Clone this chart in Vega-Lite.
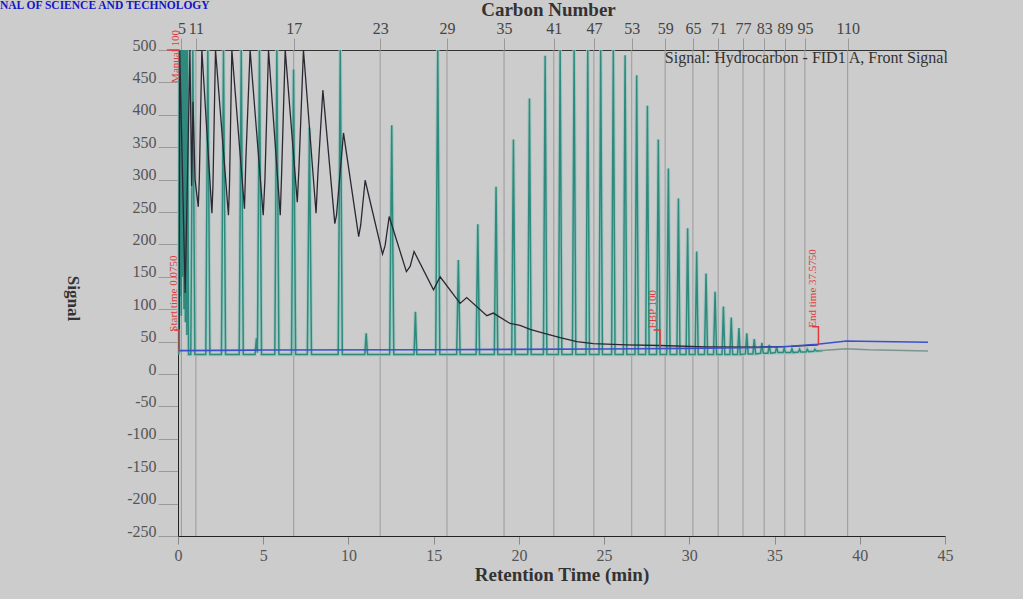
{
  "$schema": "https://vega.github.io/schema/vega-lite/v6.json",
  "width": 767,
  "height": 486,
  "autosize": {"type": "none"},
  "padding": {"left": 178, "top": 50, "right": 78, "bottom": 63},
  "background": "#cccccc",
  "config": {"view": {"stroke": null}, "font": "Liberation Serif", "axis": {"labelOverlap": false}},
  "title": {
    "text": "NAL OF SCIENCE AND TECHNOLOGY",
    "anchor": "start",
    "frame": "group",
    "orient": "top",
    "font": "Liberation Serif",
    "fontSize": 11.5,
    "fontWeight": "bold",
    "color": "#1414c8",
    "dx": -178,
    "offset": -11
  },
  "datasets": {
    "carbon": [
      {"cn": "5", "t": 0.2}, {"cn": "11", "t": 1.05}, {"cn": "17", "t": 6.79}, {"cn": "23", "t": 11.86},
      {"cn": "29", "t": 15.78}, {"cn": "35", "t": 19.13}, {"cn": "41", "t": 22.05}, {"cn": "47", "t": 24.4},
      {"cn": "53", "t": 26.62}, {"cn": "59", "t": 28.58}, {"cn": "65", "t": 30.21}, {"cn": "71", "t": 31.69},
      {"cn": "77", "t": 33.15}, {"cn": "83", "t": 34.39}, {"cn": "89", "t": 35.6}, {"cn": "95", "t": 36.78},
      {"cn": "110", "t": 39.29}
    ],
    "teal": [
      {"t": 0.05, "v": 30}, {"t": 0.08, "v": 500}, {"t": 0.11, "v": 120}, {"t": 0.15, "v": 500}, {"t": 0.19, "v": 90},
      {"t": 0.23, "v": 500}, {"t": 0.27, "v": 150}, {"t": 0.31, "v": 500}, {"t": 0.35, "v": 100}, {"t": 0.39, "v": 500},
      {"t": 0.43, "v": 80}, {"t": 0.47, "v": 500}, {"t": 0.52, "v": 60}, {"t": 0.56, "v": 500}, {"t": 0.62, "v": 30},
      {"t": 0.75, "v": 30}, {"t": 0.87, "v": 500}, {"t": 0.99, "v": 30},
      {"t": 1.63, "v": 30}, {"t": 1.75, "v": 500}, {"t": 1.87, "v": 30},
      {"t": 2.55, "v": 30}, {"t": 2.67, "v": 500}, {"t": 2.79, "v": 30},
      {"t": 3.59, "v": 30}, {"t": 3.71, "v": 500}, {"t": 3.83, "v": 30},
      {"t": 4.52, "v": 30}, {"t": 4.6, "v": 55}, {"t": 4.66, "v": 33}, {"t": 4.78, "v": 500}, {"t": 4.9, "v": 30},
      {"t": 5.68, "v": 30}, {"t": 5.8, "v": 500}, {"t": 5.92, "v": 30},
      {"t": 6.66, "v": 30}, {"t": 6.78, "v": 470}, {"t": 6.9, "v": 30},
      {"t": 7.59, "v": 30}, {"t": 7.71, "v": 380}, {"t": 7.83, "v": 30},
      {"t": 9.4, "v": 30}, {"t": 9.52, "v": 500}, {"t": 9.64, "v": 30},
      {"t": 10.96, "v": 30}, {"t": 11.04, "v": 63}, {"t": 11.12, "v": 30},
      {"t": 12.42, "v": 30}, {"t": 12.54, "v": 384}, {"t": 12.66, "v": 30},
      {"t": 13.85, "v": 30}, {"t": 13.93, "v": 96}, {"t": 14.01, "v": 30},
      {"t": 15.12, "v": 30}, {"t": 15.24, "v": 500}, {"t": 15.36, "v": 30},
      {"t": 16.35, "v": 30}, {"t": 16.45, "v": 176}, {"t": 16.55, "v": 30},
      {"t": 17.49, "v": 30}, {"t": 17.59, "v": 231}, {"t": 17.69, "v": 30},
      {"t": 18.56, "v": 30}, {"t": 18.66, "v": 289}, {"t": 18.76, "v": 30},
      {"t": 19.58, "v": 30}, {"t": 19.68, "v": 362}, {"t": 19.78, "v": 30},
      {"t": 20.52, "v": 30}, {"t": 20.62, "v": 425}, {"t": 20.72, "v": 30},
      {"t": 21.44, "v": 30}, {"t": 21.54, "v": 491}, {"t": 21.64, "v": 30},
      {"t": 22.32, "v": 30}, {"t": 22.42, "v": 500}, {"t": 22.52, "v": 30},
      {"t": 23.14, "v": 30}, {"t": 23.24, "v": 500}, {"t": 23.34, "v": 30},
      {"t": 23.94, "v": 30}, {"t": 24.04, "v": 500}, {"t": 24.14, "v": 30},
      {"t": 24.7, "v": 30}, {"t": 24.8, "v": 500}, {"t": 24.9, "v": 30},
      {"t": 25.44, "v": 30}, {"t": 25.54, "v": 500}, {"t": 25.64, "v": 30},
      {"t": 26.13, "v": 30}, {"t": 26.23, "v": 492}, {"t": 26.33, "v": 30},
      {"t": 26.81, "v": 30}, {"t": 26.91, "v": 461}, {"t": 27.01, "v": 30},
      {"t": 27.44, "v": 30}, {"t": 27.54, "v": 414}, {"t": 27.64, "v": 30},
      {"t": 28.08, "v": 30}, {"t": 28.18, "v": 362}, {"t": 28.28, "v": 30},
      {"t": 28.67, "v": 30}, {"t": 28.77, "v": 317}, {"t": 28.87, "v": 30},
      {"t": 29.27, "v": 30}, {"t": 29.36, "v": 271}, {"t": 29.45, "v": 30},
      {"t": 29.81, "v": 30}, {"t": 29.9, "v": 225}, {"t": 29.99, "v": 30},
      {"t": 30.34, "v": 30}, {"t": 30.43, "v": 189}, {"t": 30.52, "v": 30},
      {"t": 30.89, "v": 30}, {"t": 30.98, "v": 155}, {"t": 31.07, "v": 30},
      {"t": 31.42, "v": 30}, {"t": 31.51, "v": 127}, {"t": 31.6, "v": 30},
      {"t": 31.92, "v": 30}, {"t": 32.0, "v": 104}, {"t": 32.08, "v": 30},
      {"t": 32.38, "v": 30}, {"t": 32.46, "v": 87}, {"t": 32.54, "v": 30},
      {"t": 32.83, "v": 30}, {"t": 32.91, "v": 71}, {"t": 32.99, "v": 30},
      {"t": 33.29, "v": 31}, {"t": 33.37, "v": 63}, {"t": 33.45, "v": 31},
      {"t": 33.73, "v": 31}, {"t": 33.81, "v": 54}, {"t": 33.89, "v": 31},
      {"t": 34.18, "v": 32}, {"t": 34.26, "v": 48}, {"t": 34.34, "v": 32},
      {"t": 34.61, "v": 32}, {"t": 34.69, "v": 45}, {"t": 34.77, "v": 32},
      {"t": 35.05, "v": 33}, {"t": 35.12, "v": 42}, {"t": 35.2, "v": 33},
      {"t": 35.5, "v": 33}, {"t": 35.57, "v": 40}, {"t": 35.64, "v": 33},
      {"t": 35.95, "v": 33}, {"t": 36.02, "v": 39}, {"t": 36.09, "v": 33},
      {"t": 36.4, "v": 34}, {"t": 36.47, "v": 38}, {"t": 36.54, "v": 34},
      {"t": 36.85, "v": 34}, {"t": 36.92, "v": 38}, {"t": 37.0, "v": 34.5},
      {"t": 37.3, "v": 35}, {"t": 37.37, "v": 38}, {"t": 37.44, "v": 35.5},
      {"t": 37.8, "v": 36}
    ],
    "black": [
      {"t": 0.075, "v": 38}, {"t": 0.1, "v": 500}, {"t": 0.42, "v": 125}, {"t": 0.5, "v": 230}, {"t": 0.7, "v": 500},
      {"t": 0.8, "v": 290}, {"t": 0.88, "v": 420}, {"t": 1.0, "v": 300}, {"t": 1.19, "v": 258}, {"t": 1.25, "v": 300},
      {"t": 1.4, "v": 500}, {"t": 1.99, "v": 248}, {"t": 2.05, "v": 290}, {"t": 2.2, "v": 500}, {"t": 2.96, "v": 245},
      {"t": 3.02, "v": 290}, {"t": 3.16, "v": 500}, {"t": 3.9, "v": 255}, {"t": 3.98, "v": 330}, {"t": 4.23, "v": 500},
      {"t": 5.0, "v": 245}, {"t": 5.1, "v": 300}, {"t": 5.31, "v": 500}, {"t": 6.0, "v": 245}, {"t": 6.08, "v": 310},
      {"t": 6.29, "v": 500}, {"t": 7.0, "v": 265}, {"t": 7.1, "v": 320}, {"t": 7.36, "v": 500}, {"t": 8.1, "v": 248},
      {"t": 8.2, "v": 305}, {"t": 8.5, "v": 438}, {"t": 9.2, "v": 232}, {"t": 9.3, "v": 245}, {"t": 9.71, "v": 372},
      {"t": 10.6, "v": 212}, {"t": 10.72, "v": 230}, {"t": 10.98, "v": 299}, {"t": 12.0, "v": 185}, {"t": 12.15, "v": 198},
      {"t": 12.39, "v": 243}, {"t": 13.4, "v": 158}, {"t": 13.62, "v": 166}, {"t": 13.85, "v": 189}, {"t": 14.99, "v": 130},
      {"t": 15.38, "v": 150}, {"t": 16.55, "v": 109}, {"t": 16.94, "v": 118}, {"t": 18.12, "v": 90}, {"t": 18.5, "v": 94},
      {"t": 19.48, "v": 78}, {"t": 20.07, "v": 75}, {"t": 20.66, "v": 69}, {"t": 21.44, "v": 63}, {"t": 22.42, "v": 56},
      {"t": 23.4, "v": 50}, {"t": 24.37, "v": 47}, {"t": 26.33, "v": 45}, {"t": 28.28, "v": 44}, {"t": 31.0, "v": 42},
      {"t": 34.0, "v": 41.5}, {"t": 36.0, "v": 42.5}, {"t": 37.575, "v": 45}
    ],
    "blue": [
      {"t": 0.08, "v": 36}, {"t": 5, "v": 37}, {"t": 15, "v": 37.5}, {"t": 25, "v": 38.5}, {"t": 30, "v": 39.5},
      {"t": 34, "v": 41}, {"t": 35.5, "v": 42}, {"t": 37.5, "v": 46}, {"t": 39.23, "v": 51}, {"t": 40, "v": 50.5},
      {"t": 44, "v": 49}
    ],
    "blank": [
      {"t": 37.6, "v": 36}, {"t": 38.4, "v": 37.5}, {"t": 39.2, "v": 39}, {"t": 40.5, "v": 37.5}, {"t": 44, "v": 35.5}
    ],
    "markers": [
      {"g": "manual", "o": 1, "t": -0.65, "v": 500}, {"g": "manual", "o": 2, "t": 0.1, "v": 500},
      {"g": "start", "o": 1, "t": -0.25, "v": 68}, {"g": "start", "o": 2, "t": 0.075, "v": 68}, {"g": "start", "o": 3, "t": 0.075, "v": 34},
      {"g": "fbp", "o": 1, "t": 27.9, "v": 68}, {"g": "fbp", "o": 2, "t": 28.28, "v": 68}, {"g": "fbp", "o": 3, "t": 28.28, "v": 43},
      {"g": "end", "o": 1, "t": 37.2, "v": 73}, {"g": "end", "o": 2, "t": 37.575, "v": 73}, {"g": "end", "o": 3, "t": 37.575, "v": 45}
    ],
    "notes": [
      {"label": "Manual 100", "t": -0.1, "v": 490},
      {"label": "Start time 0.0750", "t": -0.25, "v": 124},
      {"label": "FBP 100", "t": 27.87, "v": 100},
      {"label": "End time 37.5750", "t": 37.26, "v": 132}
    ],
    "signal": [
      {"label": "Signal: Hydrocarbon - FID1 A, Front Signal", "t": 45.17, "v": 488}
    ]
  },
  "layer": [
    {
      "data": {"name": "carbon"},
      "mark": {"type": "rule", "color": "#9a9a9a", "strokeWidth": 1},
      "encoding": {
        "x": {
          "field": "t",
          "type": "quantitative",
          "scale": {"domain": [0, 45], "nice": false, "zero": false},
          "axis": {
            "orient": "top",
            "values": [0.2, 1.05, 6.79, 11.86, 15.78, 19.13, 22.05, 24.4, 26.62, 28.58, 30.21, 31.69, 33.15, 34.39, 35.6, 36.78, 39.29],
            "tickCount": 40,
            "labelExpr": "['5','11','17','23','29','35','41','47','53','59','65','71','77','83','89','95','110'][indexof([0.2,1.05,6.79,11.86,15.78,19.13,22.05,24.4,26.62,28.58,30.21,31.69,33.15,34.39,35.6,36.78,39.29], datum.value)]",
            "labelOverlap": false,
            "labelFlush": false,
            "labelFont": "Liberation Serif",
            "labelFontSize": 16,
            "labelColor": "#444444",
            "labelPadding": 2,
            "tickSize": 12,
            "tickColor": "#9a9a9a",
            "domainColor": "#333333",
            "grid": false,
            "title": "Carbon Number",
            "titleFont": "Liberation Serif",
            "titleFontSize": 19,
            "titleFontWeight": "bold",
            "titleColor": "#333333",
            "titlePadding": 1,
            "titleX": 370
          }
        }
      }
    },
    {
      "layer": [
        {
          "data": {"name": "teal"},
          "mark": {"type": "line", "color": "#9fc6c0", "strokeWidth": 3.6, "opacity": 0.85},
          "encoding": {
            "x": {
              "field": "t",
              "type": "quantitative",
              "scale": {"domain": [0, 45], "nice": false, "zero": false},
              "axis": {
                "orient": "bottom",
                "values": [0, 5, 10, 15, 20, 25, 30, 35, 40, 45],
                "tickCount": 40,
                "labelFlush": false,
                "labelOverlap": false,
                "labelFont": "Liberation Serif",
                "labelFontSize": 16,
                "labelColor": "#555555",
                "labelPadding": 3,
                "tickSize": 8,
                "tickColor": "#8a8a8a",
                "domainColor": "#222222",
                "grid": false,
                "title": "Retention Time (min)",
                "titleFont": "Liberation Serif",
                "titleFontSize": 19,
                "titleFontWeight": "bold",
                "titleColor": "#333333",
                "titlePadding": 2
              }
            },
            "y": {
              "field": "v",
              "type": "quantitative",
              "scale": {"domain": [-250, 500], "nice": false, "zero": false},
              "axis": {
                "values": [-250, -200, -150, -100, -50, 0, 50, 100, 150, 200, 250, 300, 350, 400, 450, 500],
                "tickCount": 40,
                "labelExpr": "toString(datum.value)",
                "labelOverlap": false,
                "labelFont": "Liberation Serif",
                "labelFontSize": 16,
                "labelColor": "#555555",
                "labelPadding": 2,
                "labelBaseline": "alphabetic",
                "labelFlush": false,
                "tickSize": 20,
                "tickColor": "#9a9a9a",
                "domainColor": "#222222",
                "grid": false,
                "title": "Signal",
                "titleFont": "Liberation Serif",
                "titleFontSize": 17,
                "titleFontWeight": "bold",
                "titleColor": "#333333",
                "titleAngle": 90,
                "titleX": -106,
                "titleY": 248,
                "titleAlign": "center",
                "titleBaseline": "middle"
              }
            }
          }
        },
        {
          "data": {"name": "teal"},
          "mark": {"type": "line", "color": "#2f8a7d", "strokeWidth": 1.5},
          "encoding": {
            "x": {"field": "t", "type": "quantitative"},
            "y": {"field": "v", "type": "quantitative"}
          }
        },
        {
          "data": {"name": "black"},
          "mark": {"type": "line", "color": "#2b2833", "strokeWidth": 1.3},
          "encoding": {
            "x": {"field": "t", "type": "quantitative"},
            "y": {"field": "v", "type": "quantitative"}
          }
        },
        {
          "data": {"name": "blank"},
          "mark": {"type": "line", "color": "#7c958f", "strokeWidth": 1.5},
          "encoding": {
            "x": {"field": "t", "type": "quantitative"},
            "y": {"field": "v", "type": "quantitative"}
          }
        },
        {
          "data": {"name": "blue"},
          "mark": {"type": "line", "color": "#3b4fcf", "strokeWidth": 1.6},
          "encoding": {
            "x": {"field": "t", "type": "quantitative"},
            "y": {"field": "v", "type": "quantitative"}
          }
        },
        {
          "data": {"name": "markers"},
          "mark": {"type": "line", "color": "#e03a3a", "strokeWidth": 1.5},
          "encoding": {
            "x": {"field": "t", "type": "quantitative"},
            "y": {"field": "v", "type": "quantitative"},
            "detail": {"field": "g"},
            "order": {"field": "o"}
          }
        },
        {
          "data": {"name": "notes"},
          "mark": {"type": "text", "color": "#e03a3a", "angle": 270, "align": "center", "baseline": "middle", "fontSize": 11, "font": "Liberation Serif"},
          "encoding": {
            "x": {"field": "t", "type": "quantitative"},
            "y": {"field": "v", "type": "quantitative"},
            "text": {"field": "label"}
          }
        },
        {
          "data": {"name": "signal"},
          "mark": {"type": "text", "color": "#333333", "align": "right", "baseline": "middle", "fontSize": 16, "font": "Liberation Serif"},
          "encoding": {
            "x": {"field": "t", "type": "quantitative"},
            "y": {"field": "v", "type": "quantitative"},
            "text": {"field": "label"}
          }
        }
      ]
    }
  ],
  "resolve": {"axis": {"x": "independent"}}
}
